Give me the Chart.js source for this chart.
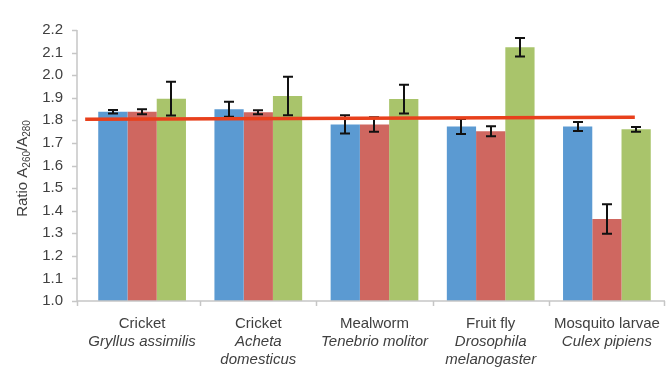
<!DOCTYPE html>
<html>
<head>
<meta charset="utf-8">
<script src="https://cdn.jsdelivr.net/npm/chart.js@4"></script>
<style>
  html, body { margin: 0; padding: 0; background: #fff; }
  #wrap { width: 667px; height: 370px; }
</style>
</head>
<body>
<div id="wrap"><canvas id="ratioChart" width="667" height="370"></canvas></div>
<script>
// Categories and their (italic) species lines
const commonNames = ['Cricket', 'Cricket', 'Mealworm', 'Fruit fly', 'Mosquito larvae'];
const speciesNames = [
    ['Gryllus assimilis'],
    ['Acheta', 'domesticus'],
    ['Tenebrio molitor'],
    ['Drosophila', 'melanogaster'],
    ['Culex pipiens']
];

// Series values (ratio A260/A280) and error bar half-widths
const blueValues = [1.838, 1.849, 1.782, 1.773, 1.773];
const blueErrors = [0.008, 0.033, 0.040, 0.033, 0.020];
const redValues = [1.838, 1.836, 1.782, 1.752, 1.363];
const redErrors = [0.011, 0.009, 0.032, 0.022, 0.065];
const greenValues = [1.896, 1.908, 1.894, 2.124, 1.760];
const greenErrors = [0.075, 0.085, 0.064, 0.041, 0.010];

// Reference line (1.8 purity threshold), x in category units
const thresholdX = [-0.49, 4.24];
const thresholdY = [1.805, 1.814];

const yTicks = [1.0, 1.1, 1.2, 1.3, 1.4, 1.5, 1.6, 1.7, 1.8, 1.9, 2.0, 2.1, 2.2];

const FONT = '"Liberation Sans", Arial, Helvetica, sans-serif';
const TEXT_COLOR = '#404040';
const AXIS_COLOR = '#c6c6c6';

const errorSets = [blueErrors, redErrors, greenErrors];

// error bars, then the red threshold line on top of everything
const overlayPlugin = {
    id: 'overlay',
    afterDatasetsDraw(chart) {
        const ctx = chart.ctx;
        const x = chart.scales.x;
        const y = chart.scales.y;
        ctx.save();
        ctx.strokeStyle = '#111';
        ctx.lineWidth = 2;
        for (let d = 0; d < 3; d++) {
            const meta = chart.getDatasetMeta(d);
            const values = chart.data.datasets[d].data;
            meta.data.forEach((bar, i) => {
                const top = y.getPixelForValue(values[i] + errorSets[d][i]);
                const bot = y.getPixelForValue(values[i] - errorSets[d][i]);
                const cx = Math.round(bar.x);
                ctx.beginPath();
                ctx.moveTo(cx, top);
                ctx.lineTo(cx, bot);
                ctx.moveTo(cx - 5, top);
                ctx.lineTo(cx + 5, top);
                ctx.moveTo(cx - 5, bot);
                ctx.lineTo(cx + 5, bot);
                ctx.stroke();
            });
        }

        const x0 = x.getPixelForValue(0);
        const step = x.getPixelForValue(1) - x0;
        ctx.strokeStyle = '#e8401c';
        ctx.lineWidth = 3.5;
        ctx.beginPath();
        thresholdX.forEach((u, i) => {
            const px = x0 + u * step;
            const py = y.getPixelForValue(thresholdY[i]);
            if (i === 0) ctx.moveTo(px, py); else ctx.lineTo(px, py);
        });
        ctx.stroke();
        ctx.restore();
    }
};

// axis lines, tick marks, category labels and the y title
const axesPlugin = {
    id: 'axesDecor',
    afterDraw(chart) {
        const ctx = chart.ctx;
        const area = chart.chartArea;
        const x = chart.scales.x;
        const y = chart.scales.y;
        const axisX = area.left - 7;
        const axisY = y.getPixelForValue(1.0);

        ctx.save();
        ctx.strokeStyle = AXIS_COLOR;
        ctx.lineWidth = 1.5;
        ctx.beginPath();
        ctx.moveTo(axisX, y.getPixelForValue(2.2));
        ctx.lineTo(axisX, axisY);
        ctx.lineTo(area.right, axisY);
        yTicks.forEach(v => {
            const py = Math.round(y.getPixelForValue(v)) + 0.5;
            ctx.moveTo(axisX - 5, py);
            ctx.lineTo(axisX, py);
        });
        const bounds = [axisX];
        for (let i = 0; i < commonNames.length - 1; i++) {
            bounds.push((x.getPixelForValue(i) + x.getPixelForValue(i + 1)) / 2);
        }
        bounds.push(area.right - 1);
        bounds.forEach(bx => {
            ctx.moveTo(Math.round(bx) + 0.5, axisY);
            ctx.lineTo(Math.round(bx) + 0.5, axisY + 5);
        });
        ctx.stroke();

        // category labels
        ctx.fillStyle = TEXT_COLOR;
        ctx.textAlign = 'center';
        ctx.textBaseline = 'alphabetic';
        commonNames.forEach((name, i) => {
            const cx = x.getPixelForValue(i);
            ctx.font = '15px ' + FONT;
            ctx.fillText(name, cx, 328);
            ctx.font = 'italic 15px ' + FONT;
            speciesNames[i].forEach((line, k) => {
                ctx.fillText(line, cx, 346 + k * 18);
            });
        });

        // y title with subscripts
        const parts = [
            { t: 'Ratio A', size: 15, dy: 0 },
            { t: '260', size: 10, dy: 3 },
            { t: '/A', size: 15, dy: 0 },
            { t: '280', size: 10, dy: 3 }
        ];
        let total = 0;
        parts.forEach(p => {
            ctx.font = p.size + 'px ' + FONT;
            p.w = ctx.measureText(p.t).width;
            total += p.w;
        });
        ctx.translate(27, 168.5);
        ctx.rotate(-Math.PI / 2);
        ctx.textAlign = 'left';
        let px = -total / 2;
        parts.forEach(p => {
            ctx.font = p.size + 'px ' + FONT;
            ctx.fillText(p.t, px, p.dy);
            px += p.w;
        });
        ctx.restore();
    }
};

const chart = new Chart(document.getElementById('ratioChart'), {
    type: 'bar',
    data: {
        labels: commonNames,
        datasets: [
            { data: blueValues, backgroundColor: '#5b9ad2' },
            { data: redValues, backgroundColor: '#cf6760' },
            { data: greenValues, backgroundColor: '#a9c46b' }
        ]
    },
    options: {
        responsive: false,
        animation: false,
        events: [],
        layout: { padding: { top: 17, right: 2, left: 0, bottom: 0 } },
        datasets: {
            bar: { categoryPercentage: 0.755, barPercentage: 1.0 }
        },
        plugins: {
            legend: { display: false },
            tooltip: { enabled: false }
        },
        scales: {
            x: {
                grid: { display: false, drawTicks: false },
                border: { display: false },
                ticks: { display: false },
                afterFit(scale) { scale.height = 69; }
            },
            y: {
                min: 1.0,
                max: 2.2,
                grid: { display: false, drawTicks: false },
                border: { display: false },
                afterBuildTicks(scale) {
                    scale.ticks = yTicks.map(v => ({ value: v }));
                },
                ticks: {
                    padding: 21,
                    color: TEXT_COLOR,
                    font: { family: FONT, size: 15 },
                    callback: v => Number(v).toFixed(1)
                },
                afterFit(scale) { scale.width = 84; }
            }
        }
    },
    plugins: [overlayPlugin, axesPlugin]
});
</script>
</body>
</html>
